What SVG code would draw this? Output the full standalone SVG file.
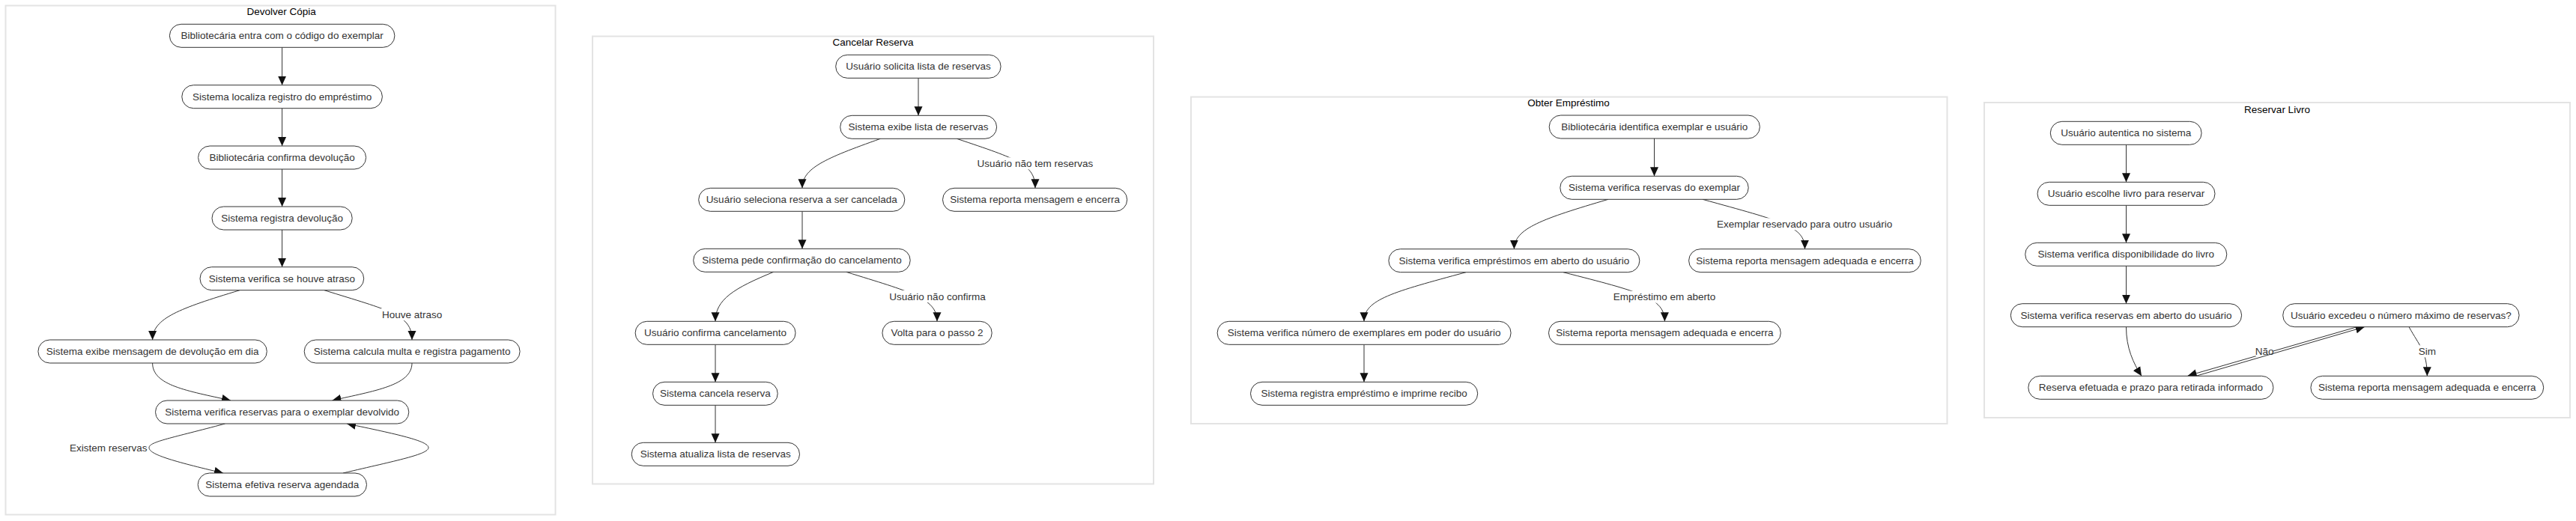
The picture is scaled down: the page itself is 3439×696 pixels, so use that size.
<svg xmlns="http://www.w3.org/2000/svg" width="3439" height="696" viewBox="0 0 3439 696">
<style>
.cl{fill:#fff;stroke:#e3e3e3;stroke-width:2}
.nd rect{fill:#fff;stroke:#333;stroke-width:1}
text{font-family:"Liberation Sans",Arial,sans-serif;font-size:13.5px;fill:#333;text-anchor:middle;dominant-baseline:central}
.ttl{fill:#000}
.e{fill:none;stroke:#333;stroke-width:1;marker-end:url(#arr)}
.lb{fill:#fff}
</style>
<defs>
<marker id="arr" markerUnits="userSpaceOnUse" viewBox="0 0 12 12" refX="12" refY="6" markerWidth="12" markerHeight="12" orient="auto">
<path d="M0,0.5 L12,6 L0,11.5 z" fill="#111"/>
</marker>
</defs>
<rect width="3439" height="696" fill="#fff"/>

<g id="clusters">
<g id="cl-devolver"><rect class="cl" x="7.5" y="7.5" width="734" height="680"/><text class="ttl" x="375.6" y="15.5">Devolver Cópia</text></g>
<g id="cl-cancelar"><rect class="cl" x="791" y="48.5" width="749" height="598"/><text class="ttl" x="1165.5" y="56.5">Cancelar Reserva</text></g>
<g id="cl-obter"><rect class="cl" x="1590" y="129.5" width="1009.5" height="436.5"/><text class="ttl" x="2094" y="137">Obter Empréstimo</text></g>
<g id="cl-reservar"><rect class="cl" x="2649" y="137" width="782" height="421"/><text class="ttl" x="3040" y="146">Reservar Livro</text></g>
</g>

<g id="connectors">
<path class="e" d="M376.6,63.3 L376.6,113.7"/>
<path class="e" d="M376.6,144.7 L376.6,195"/>
<path class="e" d="M376.6,226 L376.6,276"/>
<path class="e" d="M376.6,307 L376.6,356.7"/>
<path class="e" d="M320,387.7 C240,412 203.6,425 203.6,454"/>
<path class="e" d="M433,387.7 C520,415 550,420 550,454"/>
<rect class="lb" x="509" y="412" width="82" height="16"/><text x="550.1" y="420">Houve atraso</text>
<path class="e" d="M203.6,485 C203.6,515 250,522 308,535"/>
<path class="e" d="M550,485 C550,515 500,522 443.5,535"/>
<path class="e" d="M300.5,566 C230,585 199,590 199,598 C199,607 230,616 298,632"/>
<text x="144.7" y="598.3">Existem reservas</text>
<path class="e" d="M458,632 C530,615 572,607 572,598 C572,589 530,580 463,566"/>

<path class="e" d="M1226,104.3 L1226,154.3"/>
<path class="e" d="M1175.4,185.3 C1100,212 1071,225 1071,251.3"/>
<path class="e" d="M1277.4,185.3 C1360,213 1382,220 1382,251.3"/>
<rect class="lb" x="1304" y="210.3" width="156" height="16"/><text x="1381.9" y="218.3">Usuário não tem reservas</text>
<path class="e" d="M1071,282.3 L1071,332.3"/>
<path class="e" d="M1032.7,363.3 C980,385 955,400 955,429.3"/>
<path class="e" d="M1129.7,363.3 C1215,390 1251,398 1251,429.3"/>
<rect class="lb" x="1185.5" y="388" width="132" height="16"/><text x="1251.5" y="396">Usuário não confirma</text>
<path class="e" d="M955,460.3 L955,510.3"/>
<path class="e" d="M955,541.3 L955,591.3"/>

<path class="e" d="M2208.5,185 L2208.5,235.3"/>
<path class="e" d="M2147,266.3 C2060,292 2021.4,305 2021.4,332.7"/>
<path class="e" d="M2273,266.3 C2380,296 2409.5,302 2409.5,332.7"/>
<rect class="lb" x="2290" y="291.3" width="238" height="16"/><text x="2409.1" y="299.3">Exemplar reservado para outro usuário</text>
<path class="e" d="M1957,363.7 C1860,390 1821,400 1821,429.3"/>
<path class="e" d="M2087,363.7 C2190,390 2222.4,398 2222.4,429.3"/>
<rect class="lb" x="2153.5" y="388.7" width="137" height="16"/><text x="2222.1" y="396.7">Empréstimo em aberto</text>
<path class="e" d="M1821,460.3 L1821,510.3"/>

<path class="e" d="M2838.5,193.3 L2838.5,243.3"/>
<path class="e" d="M2838.5,274.3 L2838.5,324.3"/>
<path class="e" d="M2838.5,355.3 L2838.5,405.7"/>
<path class="e" d="M2838.5,436.7 C2838.5,465 2848,485 2859,502.3"/>
<path class="e" d="M3146.7,436.7 L2920.7,502"/>
<rect class="lb" x="3011.5" y="462" width="23" height="14"/><text x="3023.2" y="469.3">Não</text>
<path class="e" d="M2931.7,502.3 L3156.7,436.7"/>
<path class="e" d="M3216,436.7 C3230,462 3240.3,470 3240.3,502.3"/>
<rect class="lb" x="3229.5" y="461.3" width="22" height="16"/><text x="3240.3" y="469.3">Sim</text>
</g>

<g id="n1" class="nd"><rect x="226.4" y="32.3" width="300.5" height="31" rx="15.5"/><text x="376.6" y="47.8">Bibliotecária entra com o código do exemplar</text></g>
<g id="n2" class="nd"><rect x="242.8" y="113.7" width="267.6" height="31" rx="15.5"/><text x="376.6" y="129.2">Sistema localiza registro do empréstimo</text></g>
<g id="n3" class="nd"><rect x="264.6" y="195" width="224" height="31" rx="15.5"/><text x="376.6" y="210.5">Bibliotecária confirma devolução</text></g>
<g id="n4" class="nd"><rect x="283" y="276" width="187.2" height="31" rx="15.5"/><text x="376.6" y="291.5">Sistema registra devolução</text></g>
<g id="n5" class="nd"><rect x="267" y="356.7" width="218.7" height="31" rx="15.5"/><text x="376.4" y="372.2">Sistema verifica se houve atraso</text></g>
<g id="n6" class="nd"><rect x="50.9" y="454" width="305.4" height="31" rx="15.5"/><text x="203.6" y="469.5">Sistema exibe mensagem de devolução em dia</text></g>
<g id="n7" class="nd"><rect x="406.2" y="454" width="287.9" height="31" rx="15.5"/><text x="550.1" y="469.5">Sistema calcula multa e registra pagamento</text></g>
<g id="n8" class="nd"><rect x="207.5" y="535" width="338.3" height="31" rx="15.5"/><text x="376.6" y="550.5">Sistema verifica reservas para o exemplar devolvido</text></g>
<g id="n9" class="nd"><rect x="264.2" y="632" width="225.3" height="31" rx="15.5"/><text x="376.8" y="647.5">Sistema efetiva reserva agendada</text></g>

<g id="c1" class="nd"><rect x="1115.7" y="73.3" width="220.4" height="31" rx="15.5"/><text x="1226" y="88.8">Usuário solicita lista de reservas</text></g>
<g id="c2" class="nd"><rect x="1121.7" y="154.3" width="208.9" height="31" rx="15.5"/><text x="1226" y="169.8">Sistema exibe lista de reservas</text></g>
<g id="c3" class="nd"><rect x="932.7" y="251.3" width="275.1" height="31" rx="15.5"/><text x="1070.2" y="266.8">Usuário seleciona reserva a ser cancelada</text></g>
<g id="c4" class="nd"><rect x="1258.5" y="251.3" width="246.2" height="31" rx="15.5"/><text x="1381.6" y="266.8">Sistema reporta mensagem e encerra</text></g>
<g id="c5" class="nd"><rect x="925.7" y="332.3" width="289.5" height="31" rx="15.5"/><text x="1070.5" y="347.8">Sistema pede confirmação do cancelamento</text></g>
<g id="c6" class="nd"><rect x="848.1" y="429.3" width="213.9" height="31" rx="15.5"/><text x="955" y="444.8">Usuário confirma cancelamento</text></g>
<g id="c7" class="nd"><rect x="1177.9" y="429.3" width="146.3" height="31" rx="15.5"/><text x="1251" y="444.8">Volta para o passo 2</text></g>
<g id="c8" class="nd"><rect x="871.5" y="510.3" width="166.7" height="31" rx="15.5"/><text x="954.9" y="525.8">Sistema cancela reserva</text></g>
<g id="c9" class="nd"><rect x="843.2" y="591.3" width="224.3" height="31" rx="15.5"/><text x="955.3" y="606.8">Sistema atualiza lista de reservas</text></g>

<g id="o1" class="nd"><rect x="2068.2" y="154" width="281.2" height="31" rx="15.5"/><text x="2208.8" y="169.5">Bibliotecária identifica exemplar e usuário</text></g>
<g id="o2" class="nd"><rect x="2082.8" y="235.3" width="251.4" height="31" rx="15.5"/><text x="2208.5" y="250.8">Sistema verifica reservas do exemplar</text></g>
<g id="o3" class="nd"><rect x="1853.9" y="332.7" width="335" height="31" rx="15.5"/><text x="2021.4" y="348.2">Sistema verifica empréstimos em aberto do usuário</text></g>
<g id="o4" class="nd"><rect x="2254.6" y="332.7" width="309.7" height="31" rx="15.5"/><text x="2409.5" y="348.2">Sistema reporta mensagem adequada e encerra</text></g>
<g id="o5" class="nd"><rect x="1625.1" y="429.3" width="392" height="31" rx="15.5"/><text x="1821.1" y="444.8">Sistema verifica número de exemplares em poder do usuário</text></g>
<g id="o6" class="nd"><rect x="2067.5" y="429.3" width="309.8" height="31" rx="15.5"/><text x="2222.4" y="444.8">Sistema reporta mensagem adequada e encerra</text></g>
<g id="o7" class="nd"><rect x="1669.5" y="510.3" width="303.2" height="31" rx="15.5"/><text x="1821.1" y="525.8">Sistema registra empréstimo e imprime recibo</text></g>

<g id="r1" class="nd"><rect x="2737.3" y="162.3" width="201.8" height="31" rx="15.5"/><text x="2838.2" y="177.8">Usuário autentica no sistema</text></g>
<g id="r2" class="nd"><rect x="2720" y="243.3" width="237" height="31" rx="15.5"/><text x="2838.5" y="258.8">Usuário escolhe livro para reservar</text></g>
<g id="r3" class="nd"><rect x="2703.7" y="324.3" width="269.1" height="31" rx="15.5"/><text x="2838.3" y="339.8">Sistema verifica disponibilidade do livro</text></g>
<g id="r4" class="nd"><rect x="2684.3" y="405.7" width="308.3" height="31" rx="15.5"/><text x="2838.5" y="421.2">Sistema verifica reservas em aberto do usuário</text></g>
<g id="r5" class="nd"><rect x="3047.7" y="405.7" width="315.4" height="31" rx="15.5"/><text x="3205.4" y="421.2">Usuário excedeu o número máximo de reservas?</text></g>
<g id="r6" class="nd"><rect x="2707.8" y="502.3" width="327.1" height="31" rx="15.5"/><text x="2871.4" y="517.8">Reserva efetuada e prazo para retirada informado</text></g>
<g id="r7" class="nd"><rect x="3084.9" y="502.3" width="310.8" height="31" rx="15.5"/><text x="3240.3" y="517.8">Sistema reporta mensagem adequada e encerra</text></g>
</svg>
